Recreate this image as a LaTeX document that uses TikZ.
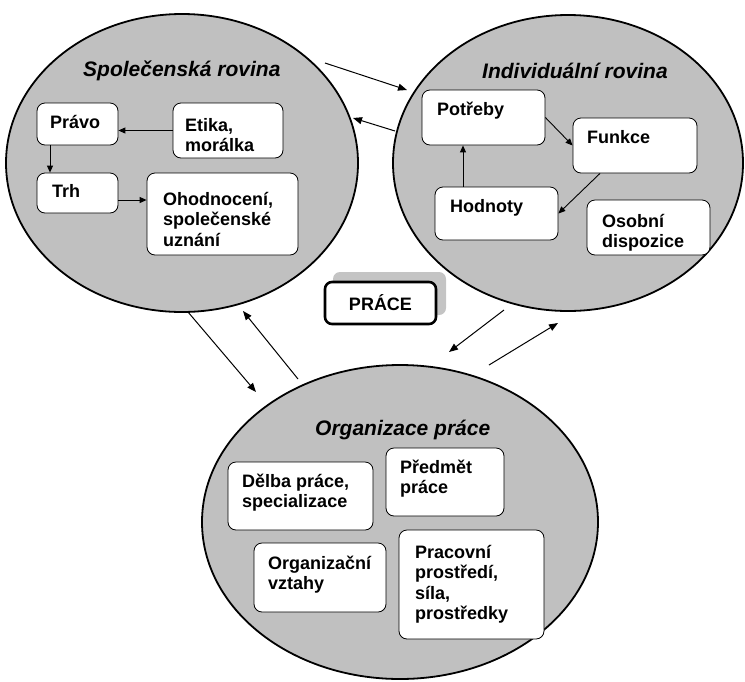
\documentclass[tikz,border=0pt]{standalone}
\usepackage{fontspec}
\setmainfont{Liberation Sans}
\usetikzlibrary{arrows.meta,calc,shapes.geometric}
\definecolor{planegray}{RGB}{192,192,192}
\definecolor{shadowgray}{RGB}{196,196,196}
% first-line strut so that a label's top edge sits 18pt above its first baseline
\newcommand\lnstrut{\rule{0pt}{18pt}}
\begin{document}
\begin{tikzpicture}[x=1pt,y=-1pt,
  plane/.style={ellipse, draw, line width=1.8pt, fill=planegray, inner sep=0pt},
  planetitle/.style={anchor=base west, inner sep=0pt,
    font=\fontsize{21}{24}\selectfont\bfseries\itshape},
  item/.style={rectangle, rounded corners=8pt, draw, line width=0.8pt,
    fill=white, inner sep=0pt},
  itemtext/.style={anchor=north west, inner sep=0pt, align=left,
    font=\fontsize{18}{20.5}\selectfont\bfseries},
  link/.style={line width=0.9pt, -{Triangle[length=7pt,width=6pt]}},
  flow/.style={line width=1pt, -{Triangle[length=9pt,width=7pt]}}]
\useasboundingbox (0,0) rectangle (745,681);

% the three planes
\node[plane, minimum width=352pt, minimum height=298pt] (soc) at (182,163) {};
\node[plane, minimum width=350pt, minimum height=296pt] (ind) at (568,163) {};
\node[plane, minimum width=396pt, minimum height=314pt] (org) at (400,522) {};

\node[planetitle] (soc-title) at (83,76) {Společenská rovina};
\node[planetitle] (ind-title) at (482,78) {Individuální rovina};
\node[planetitle] (org-title) at (315,435) {Organizace práce};

% social plane
\node[item, minimum width=81pt, minimum height=42pt] (pravo) at (77.5,124) {};
\node[item, minimum width=110pt, minimum height=55pt] (etika) at (228,130.5) {};
\node[item, minimum width=81pt, minimum height=40pt] (trh) at (77.5,193) {};
\node[item, minimum width=151pt, minimum height=82pt] (ohod) at (222.5,214) {};
\node[itemtext] (pravo-t) at (50,110) {\lnstrut Právo};
\node[itemtext] (etika-t) at (185,113) {\lnstrut Etika,\\morálka};
\node[itemtext] (trh-t) at (52,179) {\lnstrut Trh};
\node[itemtext] (ohod-t) at (163,187) {\lnstrut Ohodnocení,\\společenské\\uznání};

\coordinate (pravo-out) at ($(pravo.south)+(-27.5,0)$);
\coordinate (trh-out) at ($(trh.east)+(0,7)$);
\draw[link] (etika.west) -- (etika.west -| pravo.east);
\draw[link] (pravo-out) -- (pravo-out |- trh.north);
\draw[link] (trh-out) -- (trh-out -| ohod.west);

% individual plane
\node[item, minimum width=123pt, minimum height=55pt] (potreby) at (483.5,117.5) {};
\node[item, minimum width=124pt, minimum height=55pt] (funkce) at (635,145.5) {};
\node[item, minimum width=123pt, minimum height=53pt] (hodnoty) at (496.5,213.5) {};
\node[item, minimum width=123pt, minimum height=55pt] (osobni) at (648.5,227.5) {};
\node[itemtext] (potreby-t) at (437,97) {\lnstrut Potřeby};
\node[itemtext] (funkce-t) at (587,125) {\lnstrut Funkce};
\node[itemtext] (hodnoty-t) at (450,194) {\lnstrut Hodnoty};
\node[itemtext] (osobni-t) at (602,209) {\lnstrut Osobní\\dispozice};

\coordinate (funkce-out) at ($(funkce.south)+(-35,0)$);
\coordinate (hodnoty-out) at ($(hodnoty.north)+(-33.5,0)$);
\draw[link] (potreby.east) -- (funkce.west);
\draw[link] (funkce-out) -- (hodnoty.east);
\draw[link] (hodnoty-out) -- (hodnoty-out |- potreby.south);

% organisation plane
\node[item, minimum width=145pt, minimum height=68pt] (delba) at (300.5,496) {};
\node[item, minimum width=118pt, minimum height=68pt] (predmet) at (445,482) {};
\node[item, minimum width=132pt, minimum height=69pt] (orgvz) at (320,577.5) {};
\node[item, minimum width=145pt, minimum height=109pt] (pracovni) at (471.5,584.5) {};
\node[itemtext] (delba-t) at (242,469) {\lnstrut Dělba práce,\\specializace};
\node[itemtext] (predmet-t) at (400,455) {\lnstrut Předmět\\práce};
\node[itemtext] (orgvz-t) at (268,551) {\lnstrut Organizační\\vztahy};
\node[itemtext] (pracovni-t) at (415,540) {\lnstrut Pracovní\\prostředí,\\síla,\\prostředky};

% central label with its offset shadow
\fill[shadowgray, rounded corners=7pt] (333,272) rectangle (446,315);
\node[rectangle, rounded corners=7pt, draw, line width=2.6pt, fill=white,
  minimum width=111pt, minimum height=42pt, inner sep=0pt,
  font=\fontsize{18}{20}\selectfont\bfseries] (prace) at (380.5,303) {PRÁCE};

% exchanges between the planes
\coordinate (s2i-a) at (325,63);  \coordinate (s2i-b) at (407,90);
\coordinate (i2s-a) at (395,131); \coordinate (i2s-b) at (353,118);
\coordinate (s2o-a) at (188,312); \coordinate (s2o-b) at (256,392);
\coordinate (o2s-a) at (298,379); \coordinate (o2s-b) at (243,311);
\coordinate (i2o-a) at (504,310); \coordinate (i2o-b) at (449,352);
\coordinate (o2i-a) at (489,365); \coordinate (o2i-b) at (558,323);
\draw[flow] (s2i-a) -- (s2i-b);
\draw[flow] (i2s-a) -- (i2s-b);
\draw[flow] (s2o-a) -- (s2o-b);
\draw[flow] (o2s-a) -- (o2s-b);
\draw[flow] (i2o-a) -- (i2o-b);
\draw[flow] (o2i-a) -- (o2i-b);
\end{tikzpicture}
\end{document}
